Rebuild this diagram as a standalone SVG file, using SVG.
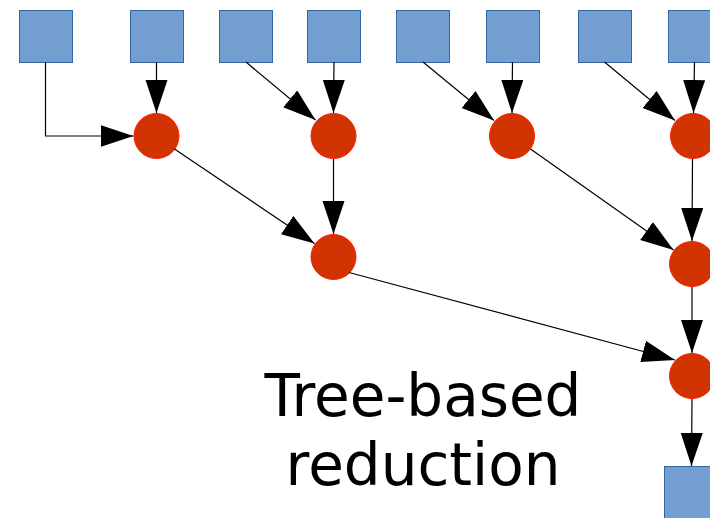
<svg xmlns="http://www.w3.org/2000/svg" width="710" height="518" viewBox="0 0 710 518">
  <style>
    .sq { fill: #729fcf; stroke: #3465a4; stroke-width: 1; }
    .op { fill: #d13400; stroke: #ff1a00; stroke-width: 1; }
    .edge { fill: none; stroke: #000; stroke-width: 1.2; marker-end: url(#head); }
    .label { font-family: "DejaVu Sans", sans-serif; font-size: 58px; fill: #000; text-anchor: middle; }
  </style>
  <defs>
    <marker id="head" markerUnits="userSpaceOnUse" markerWidth="34" markerHeight="23" refX="33" refY="11" orient="auto">
      <path d="M0,0 L33,11 L0,22 z" fill="#000"/>
    </marker>
  </defs>
  <rect width="710" height="518" fill="#fff"/>

  <!-- input elements -->
  <g id="in1"><rect class="sq" x="19.5" y="10.5" width="53" height="52"/></g>
  <g id="in2"><rect class="sq" x="130.5" y="10.5" width="53" height="52"/></g>
  <g id="in3"><rect class="sq" x="219.5" y="10.5" width="53" height="52"/></g>
  <g id="in4"><rect class="sq" x="307.5" y="10.5" width="53" height="52"/></g>
  <g id="in5"><rect class="sq" x="396.5" y="10.5" width="53" height="52"/></g>
  <g id="in6"><rect class="sq" x="486.5" y="10.5" width="53" height="52"/></g>
  <g id="in7"><rect class="sq" x="578.5" y="10.5" width="53" height="52"/></g>
  <g id="in8"><rect class="sq" x="668.5" y="10.5" width="53" height="52"/></g>

  <!-- reduction operations -->
  <g id="op1a"><circle class="op" cx="156.5" cy="136" r="22.5"/></g>
  <g id="op1b"><circle class="op" cx="333.5" cy="136" r="22.5"/></g>
  <g id="op1c"><circle class="op" cx="512" cy="136" r="22.5"/></g>
  <g id="op1d"><circle class="op" cx="693" cy="136" r="22.5"/></g>
  <g id="op2a"><circle class="op" cx="333.5" cy="257" r="22.5"/></g>
  <g id="op2b"><circle class="op" cx="692" cy="264" r="22.5"/></g>
  <g id="op3"><circle class="op" cx="692" cy="376" r="22.5"/></g>

  <!-- result -->
  <g id="out"><rect class="sq" x="664.5" y="466.5" width="53" height="60"/></g>

  <!-- connectors -->
  <g id="edges">
    <polyline class="edge" points="45.5,62 45.5,136 133.5,136"/>
    <line class="edge" x1="156.5" y1="62" x2="156.5" y2="113"/>
    <line class="edge" x1="246" y1="62" x2="315.5" y2="120"/>
    <line class="edge" x1="334" y1="62" x2="333.5" y2="113"/>
    <line class="edge" x1="423" y1="62" x2="494" y2="120.5"/>
    <line class="edge" x1="512.5" y1="62" x2="512" y2="113"/>
    <line class="edge" x1="604.5" y1="62" x2="675" y2="120.5"/>
    <line class="edge" x1="694.5" y1="62" x2="693.5" y2="113"/>
    <line class="edge" x1="174.5" y1="149" x2="314.5" y2="243.5"/>
    <line class="edge" x1="333.5" y1="159" x2="333.5" y2="234"/>
    <line class="edge" x1="530.5" y1="149" x2="673.5" y2="250"/>
    <line class="edge" x1="692.5" y1="159" x2="692" y2="241"/>
    <line class="edge" x1="349" y1="272.5" x2="675" y2="360"/>
    <line class="edge" x1="692" y1="287" x2="692" y2="353"/>
    <line class="edge" x1="692" y1="399" x2="691.5" y2="466"/>
  </g>

  <text class="label" x="423" y="416">Tree-based</text>
  <text class="label" x="423" y="485">reduction</text>
</svg>
